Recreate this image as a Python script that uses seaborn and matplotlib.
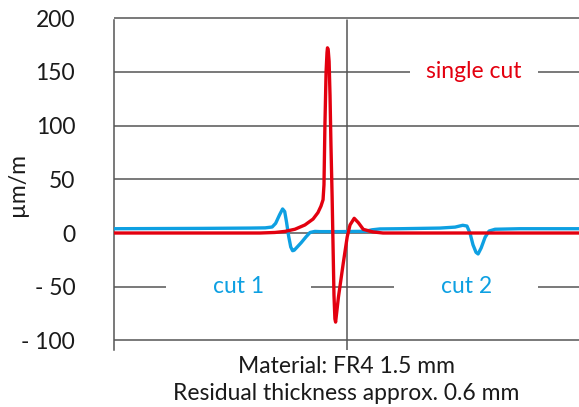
import numpy as np
import pandas as pd
import matplotlib
matplotlib.use("Agg")
import matplotlib.pyplot as plt
import seaborn as sns

# ── data (x in relative position -1..1) ──
blue_x = [-1.000, -0.630, -0.415, -0.350, -0.320, -0.305, -0.288, -0.275, -0.266,
          -0.258, -0.249, -0.240, -0.232, -0.225, -0.212, -0.195, -0.174, -0.157,
          -0.136, -0.114, -0.028, 0.080, 0.110, 0.144, 0.230, 0.402, 0.467,
          0.500, 0.518, 0.531, 0.544, 0.557, 0.566, 0.579, 0.596, 0.613,
          0.639, 0.746, 1.000]
blue_y = [4.0, 4.3, 4.6, 4.8, 5.6, 9.0, 17.0, 22.4, 20.0, 10.0, -3.0, -13.0,
          -16.5, -16.0, -13.0, -9.0, -3.5, 0.5, 1.5, 1.3, 1.3, 1.6, 3.0, 3.8,
          4.0, 4.6, 5.5, 7.2, 6.5, 0.0, -11.0, -18.0, -19.5, -14.0, -4.0, 1.8,
          3.5, 4.0, 4.0]

red_x = [-1.000, -0.372, -0.308, -0.265, -0.222, -0.179, -0.144, -0.123, -0.110,
         -0.101, -0.097, -0.093, -0.088, -0.084, -0.082, -0.079, -0.075, -0.071,
         -0.067, -0.062, -0.058, -0.054, -0.050, -0.047, -0.035, -0.014, 0.003,
         0.015, 0.033, 0.051, 0.072, 0.114, 0.157, 1.000]
red_y = [0.0, 0.0, 0.5, 1.5, 3.5, 7.5, 13.0, 19.0, 25.0, 31.0, 45.0, 100.0,
         150.0, 168.0, 172.5, 171.0, 160.0, 128.0, 82.0, 34.0, -12.0, -58.0,
         -80.0, -83.0, -60.0, -28.0, -3.5, 7.5, 13.7, 9.6, 3.4, 1.0, 0.0, 0.0]

y_ticks = [200, 150, 100, 50, 0, -50, -100]
y_tick_labels = ["200", "150", "100", "50", "0", "- 50", "- 100"]

labels = ["single cut", "cut 1", "cut 2"]
label_x = [0.546, -0.465, 0.518]
label_y = [150, -50, -50]

BLUE = "#0ea0e2"
RED = "#e3000f"
GRID = "#555555"
INK = "#1a1a1a"
FS = 16.5

df_blue = pd.DataFrame({"x": blue_x, "y": blue_y})
df_red = pd.DataFrame({"x": red_x, "y": red_y})

sns.set_style("white")
plt.rcParams["font.family"] = ["Lato", "DejaVu Sans"]

fig = plt.figure(figsize=(5.79, 4.07), dpi=100)
ax = fig.add_axes([0.197, 0.140, 0.803, 0.815])
ax.set_xlim(-1, 1)
ax.set_ylim(-109, 200)

# broken grid lines (gaps behind the text labels)
gaps = {150: [(0.273, 0.824)], -50: [(-0.776, -0.153), (0.204, 0.824)]}
for yv in y_ticks:
    edges = [-1.0]
    for a, b in gaps.get(yv, []):
        edges += [a, b]
    edges.append(1.0)
    for i in range(0, len(edges), 2):
        ax.hlines(yv, edges[i], edges[i + 1], color=GRID, lw=1.1, zorder=1,
                  clip_on=False)
ax.axvline(0, ymax=0.995, color=GRID, lw=1.1, zorder=1)

sns.lineplot(data=df_blue, x="x", y="y", ax=ax, color=BLUE, lw=2.4,
             estimator=None, sort=False, zorder=3)
sns.lineplot(data=df_red, x="x", y="y", ax=ax, color=RED, lw=2.4,
             estimator=None, sort=False, zorder=4)

for txt, tx, ty, col in zip(labels, label_x, label_y, [RED, BLUE, BLUE]):
    ax.text(tx, ty, txt, color=col, fontsize=FS, ha="center", va="center")

for s in ["top", "right", "bottom"]:
    ax.spines[s].set_visible(False)
ax.spines["left"].set_color(GRID)
ax.spines["left"].set_linewidth(1.1)
ax.spines["left"].set_bounds(-109, 198)

ax.set_xticks([])
ax.set_yticks(y_ticks)
ax.set_yticklabels(y_tick_labels, fontsize=FS, color=INK)
ax.tick_params(axis="y", length=0, pad=28)
ax.set_ylabel("µm/m", fontsize=FS, color=INK)
ax.yaxis.set_label_coords(-0.185, 0.5)
ax.set_xlabel("Material: FR4 1.5 mm\nResidual thickness approx. 0.6 mm",
              fontsize=FS, color=INK, labelpad=4, linespacing=1.38)

fig.savefig("out.png", dpi=100)
